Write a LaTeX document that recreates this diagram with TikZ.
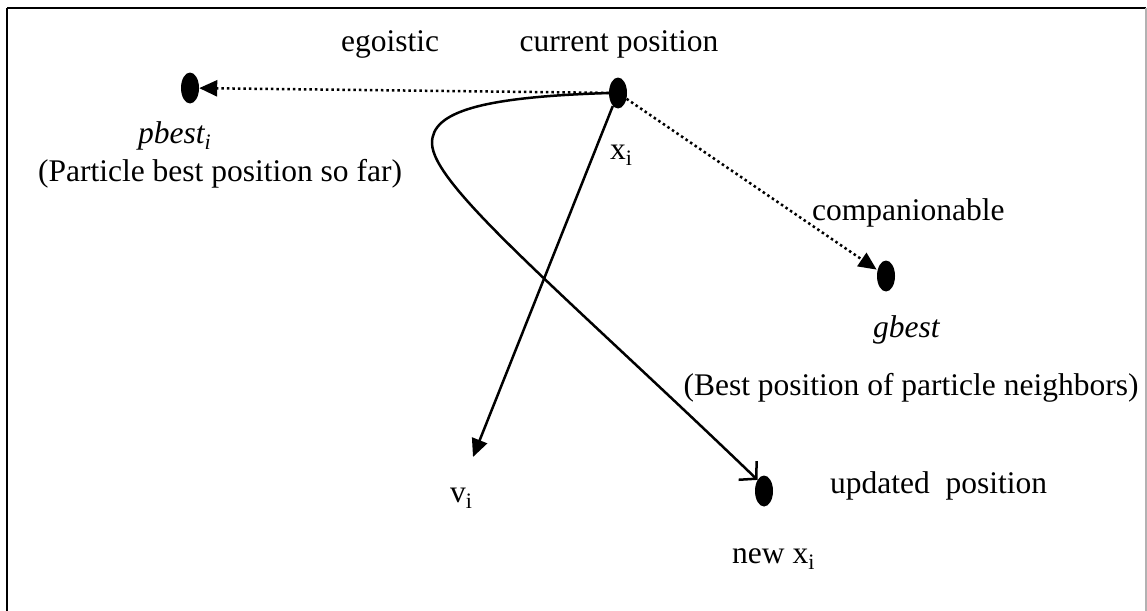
\documentclass[tikz,border=0pt]{standalone}
\usepackage{fontspec}
\setmainfont{Liberation Serif}
\usetikzlibrary{shapes.geometric,arrows.meta}
\tikzset{
  dotnode/.style={ellipse,fill=black,draw=none,minimum width=18pt,minimum height=31pt,inner sep=0pt},
  lbl/.style={inner sep=0pt,anchor=base,font=\fontsize{31.5}{38}\selectfont},
  lblw/.style={lbl,anchor=base west},
  dotline/.style={line width=2.5pt,dash pattern=on 2.5pt off 3pt},
  solidline/.style={line width=2.5pt},
  tri/.style={-{Triangle[length=18pt,width=16pt]}},
  barb/.style={-{Straight Barb[length=12pt,width=26pt,line width=2.5pt]}}
}
\begin{document}
\begin{tikzpicture}[x=1pt,y=-1pt]
\useasboundingbox (0,0) rectangle (1147,610);
\draw[line width=2pt] (7,8) -- (1145.5,8);
\draw[line width=2pt] (7,8) -- (7,614);
\draw[line width=1.5pt,black!30] (1146,8) -- (1146,614);
% dots
\node[dotnode] (pb) at (190,88) {};
\node[dotnode] (cur) at (618,93) {};
\node[dotnode] (gb) at (886,276) {};
\node[dotnode] (nx) at (764,491) {};
\coordinate (vtip) at (473,457);
% labels
\node[lbl] (lego) at (390,52) {egoistic};
\node[lbl] (lcur) at (619,52) {current position};
\node[lblw] (lpb) at (138,143) {\textit{pbest\textsubscript{i}}};
\node[lblw] (lxi) at (610,159) {x\textsubscript{i}};
\node[lbl] (lpart) at (220,181) {(Particle best position so far)};
\node[lblw] (lcomp) at (812,220) {companionable};
\node[lblw] (lgb) at (873,337) {\textit{gbest}};
\node[lbl] (lbest) at (911,395) {(Best position of particle neighbors)};
\node[lblw] (lvi) at (450,502) {v\textsubscript{i}};
\node[lblw] (lupd) at (830,493) {updated\ \ position};
\node[lblw] (lnew) at (732,563) {new x\textsubscript{i}};
% connectors
\draw[dotline,tri] (cur) -- (pb);
\draw[dotline,tri,shorten >=1pt] (cur) -- (gb);
\draw[solidline,tri] (cur) -- (vtip);
\draw[solidline,barb] (cur.west) .. controls (480,97) and (432,112) .. (432,143)
  .. controls (432,185) and (560,290) .. (nx.north west);
\end{tikzpicture}
\end{document}
